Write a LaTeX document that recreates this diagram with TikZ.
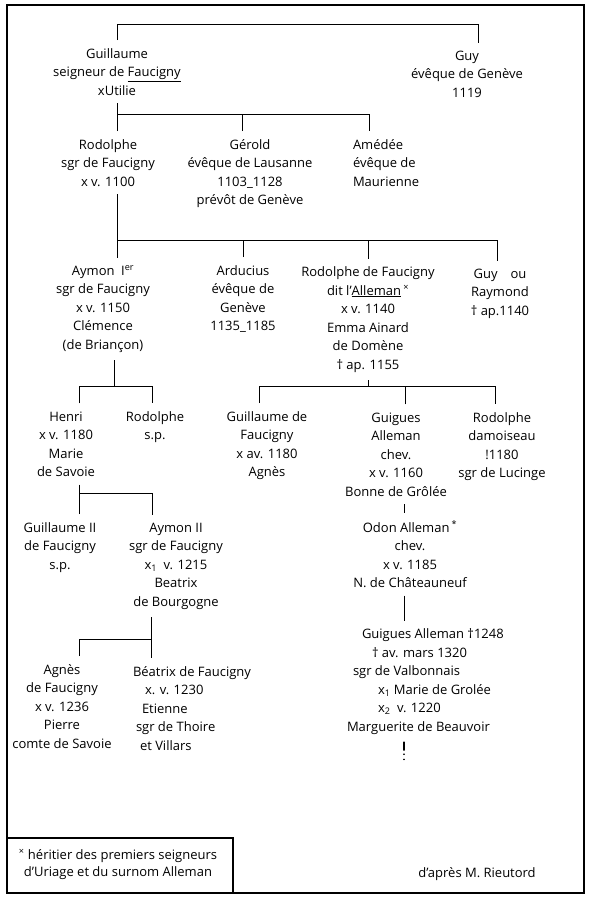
\documentclass[tikz,border=0pt]{standalone}
\usepackage{fontspec}
\setmainfont{Open Sans}
\usetikzlibrary{calc}
\newcommand{\hand}{\fontsize{13}{18.5}\selectfont}

\begin{document}
\begin{tikzpicture}[
  x=1pt, y=-1pt,
  person/.style={align=center, inner sep=0pt, outer xsep=0pt, outer ysep=8pt, anchor=base, font=\hand},
  personleft/.style={person, align=left, anchor=base west},
  link/.style={draw, line width=1pt},
  frame/.style={draw, line width=1.2pt}
]
\useasboundingbox (0,0) rectangle (590,900);
\draw[frame] (7,5) rectangle (584,893);

% bar levels
\coordinate (topbar) at (0,24);
\coordinate (bar1) at (0,114);
\coordinate (bar2) at (0,240);
\coordinate (bar3) at (0,386);
\coordinate (bar4) at (0,493);
\coordinate (bar5) at (0,639);
\coordinate (more) at (404,765);

% generation 1 (nodes sit on the baseline of their last line)
\node[person] (guil) at (117,95) {Guillaume\\seigneur de \underline{Faucigny}\\xUtilie};
\node[person] (guy) at (467,97) {Guy\\évêque de Genève\\1119};

% generation 2
\node[person] (rod1) at (108,186) {Rodolphe\\sgr de Faucigny\\x v. 1100};
\node[person] (gerold) at (250,204.5) {Gérold\\évêque de Lausanne\\1103\_1128\\prévôt de Genève};
\node[personleft] (amedee) at (353,186) {Amédée\\évêque de\\Maurienne};

% generation 3
\node[person] (aymon) at (103,349) {Aymon\enspace I\textsuperscript{er}\\sgr de Faucigny\\x v. 1150\\Clémence\\(de Briançon)};
\node[person] (arducius) at (243,330.5) {Arducius\\évêque de\\Genève\\1135\_1185};
\node[person] (rodall) at (368,369) {Rodolphe de Faucigny\\dit l'\underline{Alleman}\,\textsuperscript{×}\\x v. 1140\\Emma Ainard\\de Domène\\† ap. 1155};
\node[person] (guyray) at (500,315) {Guy\quad ou\\Raymond\\† ap.1140};

% generation 4
\node[person] (henri) at (66,476.5) {Henri\\x v. 1180\\Marie\\de Savoie};
\node[person] (rod3) at (155,439.5) {Rodolphe\\s.p.};
\node[person] (guil3) at (267,476.5) {Guillaume de\\Faucigny\\x av. 1180\\Agnès};
\node[person] (guigues) at (396,496) {Guigues\\Alleman\\chev.\\x v. 1160\\Bonne de Grôlée};
\node[person] (roddam) at (502,477.5) {Rodolphe\\damoiseau\\!1180\\sgr de Lucinge};

% generation 5
\node[person] (guil2) at (60,569) {Guillaume II\\de Faucigny\\s.p.};
\node[person] (aymon2) at (176,606) {Aymon II\\sgr de Faucigny\\x\textsubscript{1}\enspace v. 1215\\Beatrix\\de Bourgogne};
\node[person] (odon) at (410,587.5) {Odon Alleman\,\textsuperscript{*}\\chev.\\x v. 1185\\N. de Châteauneuf};

% generation 6
\node[person] (agnes) at (62,748) {Agnès\\de Faucigny\\x v. 1236\\Pierre\\comte de Savoie};
\node[personleft] (beatrix) at (133,750) {Béatrix de Faucigny\\\hspace*{12pt}x. v. 1230\\\hspace*{9pt}Etienne\\\hspace*{3pt}sgr de Thoire\\\hspace*{7pt}et Villars};
\node[personleft] (guigues2) at (347,731) {\hspace*{15pt}Guigues Alleman †1248\\\hspace*{25pt}† av. mars 1320\\\hspace*{6pt}sgr de Valbonnais\\\hspace*{31pt}x\textsubscript{1} Marie de Grolée\\\hspace*{31pt}x\textsubscript{2}\enspace v. 1220\\Marguerite de Beauvoir};

% footnote and source
\draw[frame] (7,838) -| (233,893);
\node[person, font=\fontsize{13}{17}\selectfont] (note) at (118,876) {\textsuperscript{×} héritier des premiers seigneurs\\d'Uriage et du surnom Alleman};
\node[person] (source) at (477,877) {d'après M. Rieutord};

% links
\draw[link] (guil.north) -- (guil.north |- topbar) -| ([xshift=11pt]guy.north);
\draw[link] (guil.south) -- (guil.south |- bar1) -| ([xshift=16pt]amedee.north west);
\draw[link] ([xshift=9pt]rod1.north) -- ([xshift=9pt]rod1.north |- bar1);
\draw[link] ([xshift=-8pt]gerold.north) -- ([xshift=-8pt]gerold.north |- bar1);

\draw[link] ([xshift=9pt]rod1.south) -- ([xshift=9pt]rod1.south |- bar2) -| ([xshift=-3pt]guyray.north);
\draw[link] ([xshift=14pt]aymon.north) -- ([xshift=14pt]aymon.north |- bar2);
\draw[link] (arducius.north) -- (arducius.north |- bar2);
\draw[link] (rodall.north) -- (rodall.north |- bar2);

\draw[link] ([xshift=11pt]aymon.south) -- ([xshift=11pt]aymon.south |- bar3);
\draw[link] ([xshift=13pt]henri.north) |- ([xshift=-3pt]rod3.north |- bar3) -- ([xshift=-3pt]rod3.north);
\draw[link] (rodall.south) -- (rodall.south |- bar3);
\draw[link] ([xshift=-8pt]guil3.north) |- ([xshift=-7pt]roddam.north |- bar3) -- ([xshift=-7pt]roddam.north);
\draw[link] ([xshift=9pt]guigues.north) -- ([xshift=9pt]guigues.north |- bar3);

\draw[link] ([xshift=13pt]henri.south) -- ([xshift=13pt]henri.south |- bar4) -| ([xshift=-24pt]aymon2.north);
\draw[link] ([xshift=19pt]guil2.north) -- ([xshift=19pt]guil2.north |- bar4);
\draw[link] ([xshift=8pt]guigues.south) -- ([xshift=-6pt]odon.north);
\draw[link] ([xshift=-6pt]odon.south) -- ([xshift=57pt]guigues2.north west);

\draw[link] ([xshift=-25pt]aymon2.south) -- ([xshift=18pt]beatrix.north west);
\draw[link] ([xshift=17pt]agnes.north) |- ([xshift=18pt]beatrix.north west |- bar5);
\draw[link, line width=1.4pt, line cap=round, dash pattern=on 8pt off 4pt on 0.2pt off 5pt on 0.2pt off 8pt] ([xshift=57pt]guigues2.south west) -- (more);
\end{tikzpicture}
\end{document}
